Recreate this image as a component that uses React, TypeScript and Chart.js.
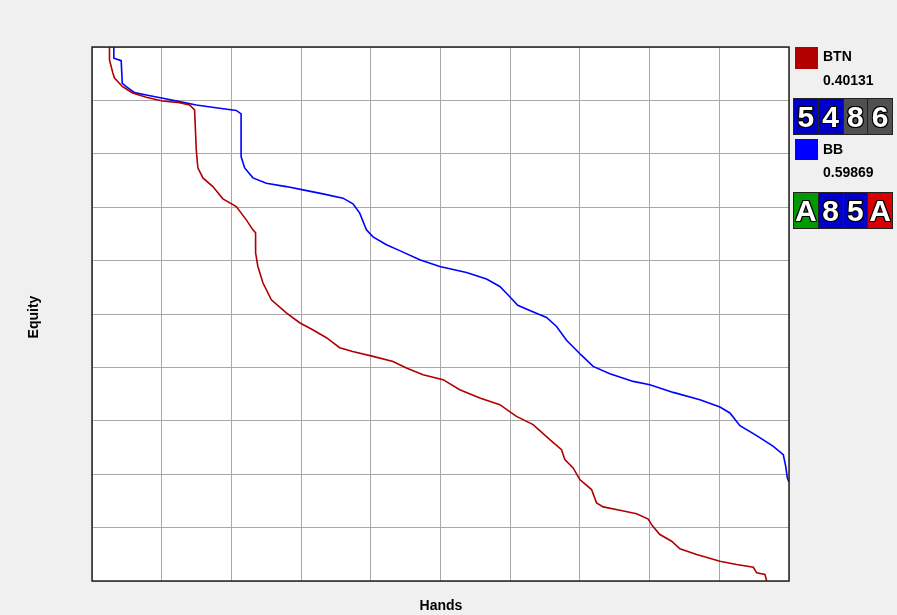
import React, { useEffect, useRef } from "react";
import { Chart, registerables } from "chart.js";

Chart.register(...registerables);

// Hands fraction (x) and equity (y)
const btnHands = [0.0251, 0.0251, 0.0299, 0.0323, 0.0438, 0.0582, 0.0778, 0.1012, 0.1256, 0.14, 0.1472, 0.1496, 0.1519, 0.1591, 0.1734, 0.1878, 0.207, 0.2214, 0.2309, 0.2347, 0.2347, 0.238, 0.2452, 0.2573, 0.2788, 0.2979, 0.3166, 0.3363, 0.3553, 0.374, 0.4032, 0.4319, 0.4511, 0.4749, 0.5037, 0.5276, 0.5564, 0.5851, 0.609, 0.6329, 0.6569, 0.6736, 0.6784, 0.6903, 0.6999, 0.7167, 0.7239, 0.7334, 0.7574, 0.7813, 0.798, 0.804, 0.8148, 0.8316, 0.8435, 0.8675, 0.9009, 0.9249, 0.9488, 0.9536, 0.9655, 0.968];
const btnEquity = [1.0, 0.9757, 0.9514, 0.942, 0.9257, 0.9139, 0.9059, 0.899, 0.8958, 0.8915, 0.8821, 0.8073, 0.7736, 0.7549, 0.7386, 0.7156, 0.7012, 0.6763, 0.6576, 0.652, 0.6146, 0.589, 0.5585, 0.5267, 0.5023, 0.4836, 0.4705, 0.4556, 0.4369, 0.4299, 0.4206, 0.4112, 0.3989, 0.3863, 0.377, 0.3583, 0.3427, 0.3302, 0.3083, 0.2928, 0.2647, 0.246, 0.2273, 0.2118, 0.1899, 0.1712, 0.1463, 0.1388, 0.1325, 0.1259, 0.116, 0.1033, 0.087, 0.0745, 0.0602, 0.0496, 0.037, 0.0309, 0.0258, 0.0153, 0.0122, 0.0];

const bbHands = [0.0313, 0.0313, 0.0419, 0.0434, 0.0491, 0.061, 0.0778, 0.1017, 0.1256, 0.1496, 0.1831, 0.207, 0.2139, 0.2139, 0.219, 0.2309, 0.2501, 0.2788, 0.3027, 0.3314, 0.3601, 0.3744, 0.3841, 0.3937, 0.4032, 0.4224, 0.4415, 0.4702, 0.4989, 0.5373, 0.566, 0.5851, 0.5994, 0.6109, 0.6281, 0.6521, 0.6665, 0.6808, 0.7014, 0.719, 0.743, 0.7765, 0.8004, 0.8339, 0.8722, 0.9009, 0.9152, 0.9296, 0.9536, 0.9775, 0.9918, 0.9953, 0.9976, 1.0];
const bbEquity = [1.0, 0.9789, 0.9744, 0.9321, 0.9257, 0.9145, 0.9102, 0.904, 0.8977, 0.8915, 0.8853, 0.8812, 0.8747, 0.7948, 0.7736, 0.7549, 0.745, 0.7386, 0.7325, 0.725, 0.7169, 0.7063, 0.6889, 0.6576, 0.6445, 0.6296, 0.6187, 0.6015, 0.589, 0.5777, 0.5654, 0.5515, 0.5323, 0.5164, 0.5066, 0.4934, 0.4767, 0.4509, 0.4238, 0.4019, 0.3882, 0.3738, 0.3676, 0.3532, 0.3396, 0.3259, 0.3147, 0.2909, 0.2722, 0.2522, 0.2367, 0.2148, 0.1931, 0.185];

const playerNames = ["BTN", "BB"];
const playerEquities = ["0.40131", "0.59869"];
const playerColors = ["#b00000", "#0000ff"];
const btnCards = ["5", "4", "8", "6"];
const btnCardColors = ["#0000c8", "#0000c8", "#505050", "#505050"];
const bbCards = ["A", "8", "5", "A"];
const bbCardColors = ["#009a00", "#0000c8", "#0000c8", "#d80000"];

const xTitle = "Hands";
const yTitle = "Equity";

const frameBorder = {
  id: "frameBorder",
  afterDraw(chart: any) {
    const { ctx, chartArea } = chart;
    ctx.save();
    ctx.strokeStyle = "#222";
    ctx.lineWidth = 1.5;
    ctx.strokeRect(chartArea.left, chartArea.top, chartArea.right - chartArea.left, chartArea.bottom - chartArea.top);
    ctx.restore();
  },
};

const plotBg = {
  id: "plotBg",
  beforeDraw(chart: any) {
    const { ctx, chartArea } = chart;
    ctx.save();
    ctx.fillStyle = "#ffffff";
    ctx.fillRect(chartArea.left, chartArea.top, chartArea.right - chartArea.left, chartArea.bottom - chartArea.top);
    ctx.restore();
  },
};

const FONT = "'Liberation Sans', Arial, sans-serif";

function CardRow({ cards, colors, top }: { cards: string[]; colors: string[]; top: number }) {
  return (
    <div
      style={{
        position: "absolute",
        left: 793,
        top,
        width: 100,
        height: 37,
        display: "flex",
        border: "1px solid #222",
        boxSizing: "border-box",
      }}
    >
      {cards.map((c, i) => (
        <div
          key={i}
          style={{
            flex: 1,
            background: colors[i],
            borderLeft: i === 0 ? "none" : "1px solid #222",
            color: "#fff",
            fontFamily: FONT,
            fontWeight: "bold",
            fontSize: 30,
            lineHeight: "35px",
            textAlign: "center",
            textShadow:
              "1px 0 0 #000, -1px 0 0 #000, 0 1px 0 #000, 0 -1px 0 #000, 1px 1px 0 #000, -1px -1px 0 #000, 1px -1px 0 #000, -1px 1px 0 #000",
          }}
        >
          {c}
        </div>
      ))}
    </div>
  );
}

export default function App() {
  const ref = useRef<HTMLCanvasElement>(null);

  useEffect(() => {
    document.body.style.margin = "0";
    const chart = new Chart(ref.current!, {
      type: "line",
      data: {
        datasets: [
          {
            label: playerNames[0],
            data: btnHands.map((x, i) => ({ x, y: btnEquity[i] })),
            borderColor: playerColors[0],
            borderWidth: 1.6,
            pointRadius: 0,
            tension: 0,
          },
          {
            label: playerNames[1],
            data: bbHands.map((x, i) => ({ x, y: bbEquity[i] })),
            borderColor: playerColors[1],
            borderWidth: 1.6,
            pointRadius: 0,
            tension: 0,
          },
        ],
      },
      options: {
        animation: false,
        responsive: false,
        layout: { padding: { left: 92, top: 47, right: 108, bottom: 34 } },
        plugins: { legend: { display: false }, tooltip: { enabled: false } },
        scales: {
          x: {
            type: "linear",
            min: 0,
            max: 1,
            ticks: { display: false, stepSize: 0.1 },
            grid: { color: "#a8a8a8", drawTicks: false, lineWidth: 1 },
            border: { display: false },
          },
          y: {
            type: "linear",
            min: 0,
            max: 1,
            ticks: { display: false, stepSize: 0.1 },
            grid: { color: "#a8a8a8", drawTicks: false, lineWidth: 1 },
            border: { display: false },
          },
        },
      },
      plugins: [plotBg, frameBorder],
    });
    return () => chart.destroy();
  }, []);

  const textStyle: React.CSSProperties = {
    position: "absolute",
    fontFamily: FONT,
    fontWeight: "bold",
    fontSize: 14,
    lineHeight: "16px",
    color: "#000",
    whiteSpace: "nowrap",
  };

  return (
    <div style={{ position: "fixed", left: 0, top: 0, width: 897, height: 615, background: "#f0f0f0", overflow: "hidden" }}>
      <canvas ref={ref} width={897} height={615} style={{ position: "absolute", left: 0, top: 0 }} />
      <div style={{ ...textStyle, left: 341, width: 200, textAlign: "center", top: 597 }}>{xTitle}</div>
      <div
        style={{
          ...textStyle,
          left: 32.6 - 50,
          width: 100,
          top: 317 - 8,
          textAlign: "center",
          transform: "rotate(-90deg)",
        }}
      >
        {yTitle}
      </div>

      <div style={{ position: "absolute", left: 795, top: 47, width: 23, height: 22, background: playerColors[0] }} />
      <div style={{ ...textStyle, left: 823, top: 47.5 }}>{playerNames[0]}</div>
      <div style={{ ...textStyle, left: 823, top: 72 }}>{playerEquities[0]}</div>
      <CardRow cards={btnCards} colors={btnCardColors} top={98} />

      <div style={{ position: "absolute", left: 795, top: 139, width: 23, height: 21, background: playerColors[1] }} />
      <div style={{ ...textStyle, left: 823, top: 141 }}>{playerNames[1]}</div>
      <div style={{ ...textStyle, left: 823, top: 164 }}>{playerEquities[1]}</div>
      <CardRow cards={bbCards} colors={bbCardColors} top={192} />
    </div>
  );
}
